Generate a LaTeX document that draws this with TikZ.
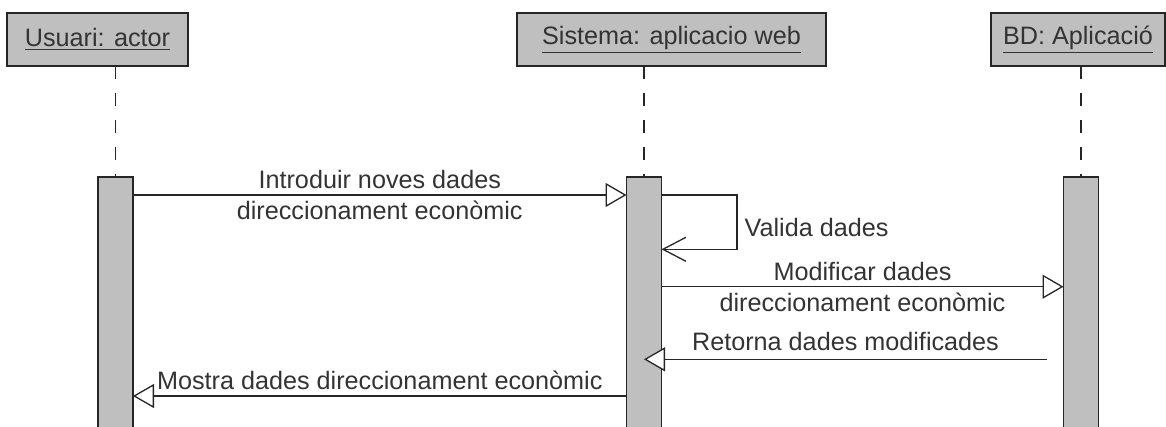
\documentclass[tikz,border=0pt]{standalone}
\usepackage{fontspec}
\setmainfont{Liberation Sans}
\usetikzlibrary{arrows.meta}

\begin{document}
\begin{tikzpicture}[x=0.5pt,y=-0.5pt,
		font=\fontsize{12.6}{15.5}\selectfont,
		obj/.style={draw=black!85, fill=black!25, line width=0.8pt, inner sep=0pt, outer sep=0pt, minimum height=26.5pt, text=black!80},
		actbar/.style={draw=black!85, fill=black!25, line width=0.8pt, inner sep=0pt, outer sep=0pt, minimum width=17.5pt, minimum height=135pt},
		lifeline/.style={draw=black!85, line width=0.7pt, dash pattern=on 6.5pt off 7pt},
		msg/.style={draw=black!85, line width=0.65pt, -{Triangle[length=10.5pt,width=12pt,fill=white]}},
		selfmsg/.style={draw=black!85, line width=0.65pt, -{Straight Barb[length=11.5pt,width=12pt]}},
		lbl/.style={text=black!80, align=center, inner sep=0pt}]
		
		\clip (0,0) rectangle (1166,427);
		
		% objects
		\node[obj, minimum width=90.5pt] (usr) at (97.5,39.5) {\underline{Usuari: actor}};
		\node[obj, minimum width=154.5pt] (sis) at (671.5,39.5) {\underline{Sistema: aplicacio web}};
		\node[obj, minimum width=87pt] (bd) at (1078,39.5) {\underline{BD: Aplicació}};
		
		% activation bars
		\node[actbar] (bar1) at (115.5,312) {};
		\node[actbar] (bar2) at (644,312) {};
		\node[actbar] (bar3) at (1081,312) {};
		
		\draw[lifeline] (usr.south -| bar1.north) -- (bar1.north);
		\draw[lifeline] (sis.south -| bar2.north) -- (bar2.north);
		\draw[lifeline] (bd.south -| bar3.north) -- (bar3.north);
		
		% message levels
		\coordinate (m1) at (0,195);
		\coordinate (m2) at (0,249.3);
		\coordinate (m3) at (0,286.7);
		\coordinate (m4) at (0,359.3);
		\coordinate (m5) at (0,396);
		\coordinate (r0) at (1047,359.3);
		
		\draw[msg] (bar1.east |- m1) -- node[lbl]{Introduir noves dades\\direccionament econòmic} (bar2.west |- m1);
		\draw[selfmsg] (bar2.east |- m1) -- ++(75.5,0) |- node[lbl, pos=0.25, right, inner sep=3.5pt, yshift=-2.5pt]{Valida dades} (bar2.east |- m2);
		\draw[msg] (bar2.east |- m3) -- node[lbl]{Modificar dades\\direccionament econòmic} (bar3.west |- m3);
		\draw[msg] (r0) -- node[lbl, above, inner sep=3.75pt]{Retorna dades modificades} (bar2 |- m4);
		\draw[msg] (bar2.west |- m5) -- node[lbl, above, inner sep=3pt]{Mostra dades direccionament econòmic} (bar1.east |- m5);
	\end{tikzpicture}
\end{document}
